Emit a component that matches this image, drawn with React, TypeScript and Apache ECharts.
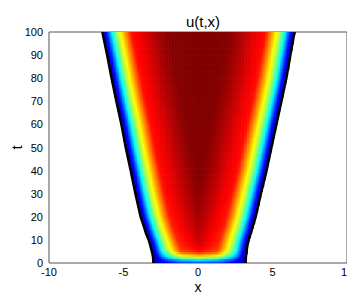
import React, { useEffect, useRef } from "react";
import * as echarts from "echarts";

// ---- data ----
const tKnots = [0, 1, 2, 3, 4, 5, 6, 8, 10, 13, 16, 20, 30, 40, 50, 60, 70, 80, 90, 100];
const leftEdge = [-3.0, -3.0, -3.01, -3.03, -3.06, -3.1, -3.14, -3.22, -3.31, -3.5, -3.64, -3.85, -4.2, -4.52, -4.85, -5.14, -5.48, -5.8, -6.1, -6.42];
const rightEdge = [3.2, 3.2, 3.21, 3.22, 3.24, 3.26, 3.28, 3.33, 3.4, 3.55, 3.68, 3.87, 4.22, 4.6, 4.93, 5.26, 5.6, 5.93, 6.2, 6.48];
const peakLevel = [0.17, 0.3, 0.47, 0.68, 0.82, 0.92, 0.95, 0.97, 0.98, 0.98, 0.99, 0.99, 1, 1, 1, 1, 1, 1, 1, 1];
const depthKnots = [0, 0.3, 0.65, 1.0, 1.3, 1.6, 1.95, 2.6, 3.3, 3.9, 4.4, 5.5];
const depthShape = [0.02, 0.15, 0.38, 0.55, 0.65, 0.75, 0.86, 0.895, 0.94, 0.975, 0.995, 1.0];
const jetColors = ["#00008f", "#0000ff", "#0080ff", "#00ffff", "#80ff80", "#ffff00", "#ff8000", "#ff0000", "#800000"];

const DX = 0.1;
const DT = 1;

function interp(xs: number[], ys: number[], v: number): number {
  if (v <= xs[0]) return ys[0];
  if (v >= xs[xs.length - 1]) return ys[ys.length - 1];
  for (let i = 1; i < xs.length; i++) {
    if (v <= xs[i]) {
      const f = (v - xs[i - 1]) / (xs[i] - xs[i - 1]);
      return ys[i - 1] + f * (ys[i] - ys[i - 1]);
    }
  }
  return ys[ys.length - 1];
}

function buildField(): number[][] {
  const cells: number[][] = [];
  for (let r = 0; r < 100 / DT; r++) {
    const t = (r + 0.5) * DT;
    const L = interp(tKnots, leftEdge, t);
    const R = interp(tKnots, rightEdge, t);
    const A = interp(tKnots, peakLevel, t);
    for (let i = 0; i < 20 / DX; i++) {
      const x = -10 + (i + 0.5) * DX;
      if (x < L || x > R) continue;
      const d = Math.min(x - L, R - x);
      cells.push([x, t, A * interp(depthKnots, depthShape, d)]);
    }
  }
  return cells;
}

export default function App() {
  const ref = useRef<HTMLDivElement>(null);
  useEffect(() => {
    if (!ref.current) return;
    const chart = echarts.init(ref.current, null, { renderer: "svg" });
    const font = "Liberation Sans";
    const field = buildField();
    chart.setOption({
      animation: false,
      backgroundColor: "#ffffff",
      title: {
        text: "u(t,x)",
        left: 198,
        top: 9,
        textAlign: "center",
        textStyle: { fontFamily: font, fontSize: 15, fontWeight: "normal", color: "#000" },
      },
      grid: {
        left: 49,
        right: 0,
        top: 32,
        bottom: 32,
        containLabel: false,
        outerBoundsMode: "none",
        show: true,
        borderColor: "#555",
        borderWidth: 1,
        backgroundColor: "transparent",
      },
      visualMap: {
        show: false,
        type: "continuous",
        min: 0,
        max: 1,
        dimension: 2,
        seriesIndex: 0,
        inRange: { color: jetColors },
      },
      xAxis: {
        type: "value",
        min: -10,
        max: 10,
        interval: 5,
        axisLine: { show: false },
        axisTick: { show: false },
        splitLine: { show: false },
        axisLabel: { fontFamily: font, fontSize: 11, color: "#000", margin: 3 },
        name: "x",
        nameLocation: "middle",
        nameGap: 17,
        nameMoveOverlap: false,
        nameTextStyle: { fontFamily: font, fontSize: 14, color: "#000" },
      },
      yAxis: {
        type: "value",
        min: 0,
        max: 100,
        interval: 10,
        axisLine: { show: false },
        axisTick: { show: false },
        splitLine: { show: false },
        axisLabel: { fontFamily: font, fontSize: 11, color: "#000", margin: 6 },
        name: "t",
        nameLocation: "middle",
        nameGap: 25,
        nameMoveOverlap: false,
        nameRotate: 90,
        nameTextStyle: { fontFamily: font, fontSize: 15, color: "#000" },
      },
      series: [
        {
          type: "custom",
          data: field,
          progressive: 0,
          progressiveThreshold: 1000000,
          encode: { x: 0, y: 1 },
          renderItem: (params: any, api: any) => {
            const x = api.value(0);
            const t = api.value(1);
            const p0 = api.coord([x - DX / 2, t + DT / 2]);
            const p1 = api.coord([x + DX / 2, t - DT / 2]);
            return {
              type: "rect",
              shape: { x: p0[0], y: p0[1], width: p1[0] - p0[0] + 0.6, height: p1[1] - p0[1] + 0.6 },
              style: { fill: api.visual("color") },
            };
          },
          clip: true,
        },
        {
          type: "line",
          data: tKnots.map((t, i) => [leftEdge[i], t]),
          showSymbol: false,
          lineStyle: { color: "#000", width: 2.5 },
          z: 5,
        },
        {
          type: "line",
          data: tKnots.map((t, i) => [rightEdge[i], t]),
          showSymbol: false,
          lineStyle: { color: "#000", width: 2.5 },
          z: 5,
        },
      ],
    });
    return () => chart.dispose();
  }, []);
  return (
    <div
      ref={ref}
      style={{ position: "absolute", left: 0, top: 0, width: 347, height: 295, background: "#fff" }}
    />
  );
}
